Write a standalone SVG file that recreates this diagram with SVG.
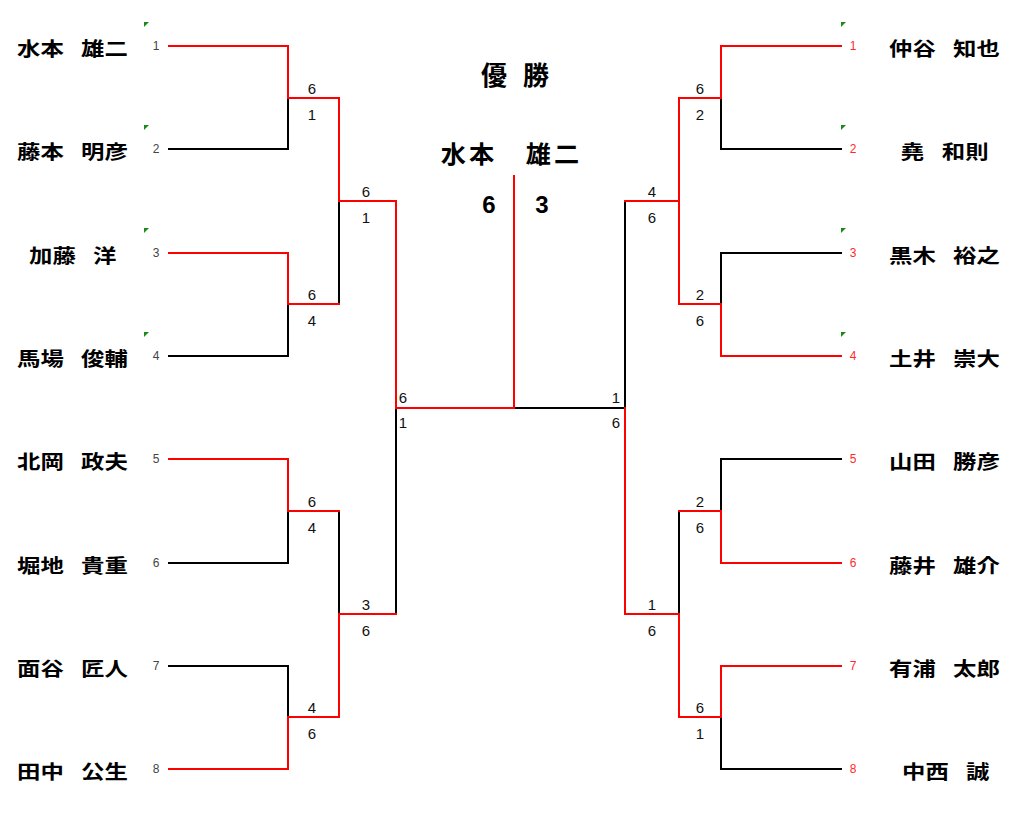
<svg xmlns="http://www.w3.org/2000/svg" width="1024" height="822" viewBox="0 0 1024 822">
<style>
.bk{fill:none;stroke:#000;stroke-width:2;stroke-linecap:square}
.rd{fill:none;stroke:#ff0000;stroke-width:2;stroke-linecap:square}
.nm{font-family:"Noto Sans CJK JP","Noto Sans CJK SC",sans-serif;font-weight:bold;font-size:19.5px;text-anchor:start;fill:#000}
.sdl{font-family:"Liberation Sans",Arial,sans-serif;font-size:12px;text-anchor:middle;fill:#444}
.sdr{font-family:"Liberation Sans",Arial,sans-serif;font-size:12px;text-anchor:middle;fill:#ff2a2a}
.sc{font-family:"Liberation Sans",Arial,sans-serif;font-size:15px;text-anchor:middle;fill:#111}
.tri{fill:#1a8a1a}
.ttl{font-family:"Noto Sans CJK JP","Noto Sans CJK SC",sans-serif;font-weight:bold;text-anchor:middle;fill:#000}
.fs{font-family:"Liberation Sans",Arial,sans-serif;font-weight:bold;font-size:24px;text-anchor:middle;fill:#000}
</style>
<rect width="1024" height="822" fill="#fff"/>
<g id="connectors">
<path class="bk" d="M169,149H288V98"/>
<path class="bk" d="M169,356H288V304"/>
<path class="bk" d="M339,304V201"/>
<path class="bk" d="M169,563H288V511"/>
<path class="bk" d="M169,666H288V717"/>
<path class="bk" d="M339,511V614"/>
<path class="bk" d="M396,614V408"/>
<path class="bk" d="M841,149H721V98"/>
<path class="bk" d="M841,253H721V304"/>
<path class="bk" d="M679,98V201"/>
<path class="bk" d="M625,201V408H514"/>
<path class="bk" d="M841,459H721V511"/>
<path class="bk" d="M679,511V614"/>
<path class="bk" d="M841,769H721V717"/>
<path class="rd" d="M169,46H288V98H339V201H396V408H514V176"/>
<path class="rd" d="M169,253H288V304H339"/>
<path class="rd" d="M169,459H288V511H339"/>
<path class="rd" d="M169,769H288V717H339V614H396"/>
<path class="rd" d="M841,46H721V98H679V201H625"/>
<path class="rd" d="M841,356H721V304H679V201"/>
<path class="rd" d="M841,563H721V511H679"/>
<path class="rd" d="M841,666H721V717H679V614H625V408"/>
</g>
<g id="scores">
<text class="sc" x="312" y="93.5">6</text><text class="sc" x="312" y="119.5">1</text>
<text class="sc" x="312" y="299.5">6</text><text class="sc" x="312" y="325.5">4</text>
<text class="sc" x="312" y="506.5">6</text><text class="sc" x="312" y="532.5">4</text>
<text class="sc" x="312" y="712.5">4</text><text class="sc" x="312" y="738.5">6</text>
<text class="sc" x="366" y="196.5">6</text><text class="sc" x="366" y="222.5">1</text>
<text class="sc" x="366" y="609.5">3</text><text class="sc" x="366" y="635.5">6</text>
<text class="sc" x="403" y="403">6</text><text class="sc" x="403" y="428">1</text>
<text class="sc" x="616" y="403">1</text><text class="sc" x="616" y="428">6</text>
<text class="sc" x="652" y="196.5">4</text><text class="sc" x="652" y="222.5">6</text>
<text class="sc" x="652" y="609.5">1</text><text class="sc" x="652" y="635.5">6</text>
<text class="sc" x="700" y="93.5">6</text><text class="sc" x="700" y="119.5">2</text>
<text class="sc" x="700" y="299.5">2</text><text class="sc" x="700" y="325.5">6</text>
<text class="sc" x="700" y="506.5">2</text><text class="sc" x="700" y="532.5">6</text>
<text class="sc" x="700" y="712.5">6</text><text class="sc" x="700" y="738.5">1</text>
</g>
<g id="champion">
<text class="ttl" x="515" y="85" font-size="26" word-spacing="10">優 勝</text>
<text class="ttl" font-size="24" letter-spacing="3" transform="translate(511.5,163) scale(1.05,1)">水本　雄二</text>
<text class="fs" x="489" y="212.5">6</text>
<text class="fs" x="542" y="212.5">3</text>
</g>
<g id="L1"><polygon class="tri" points="144,22 149,22 144,27"/><text class="sdl" x="156" y="50.3">1</text><text class="nm" x="0 19.6 39.2 53.3 72.9" y="0" transform="translate(17,55.6) scale(1.2,1)">水本　雄二</text></g>
<g id="L2"><polygon class="tri" points="144,125 149,125 144,130"/><text class="sdl" x="156" y="153.3">2</text><text class="nm" x="0 19.6 39.2 53.3 72.9" y="0" transform="translate(17,158.6) scale(1.2,1)">藤本　明彦</text></g>
<g id="L3"><polygon class="tri" points="144,228 149,228 144,233"/><text class="sdl" x="156" y="257.3">3</text><text class="nm" x="0 19.6 39.2 53.3" y="0" transform="translate(29,262.6) scale(1.2,1)">加藤　洋</text></g>
<g id="L4"><polygon class="tri" points="144,332 149,332 144,337"/><text class="sdl" x="156" y="360.3">4</text><text class="nm" x="0 19.6 39.2 53.3 72.9" y="0" transform="translate(17,365.6) scale(1.2,1)">馬場　俊輔</text></g>
<g id="L5"><text class="sdl" x="156" y="463.3">5</text><text class="nm" x="0 19.6 39.2 53.3 72.9" y="0" transform="translate(17,468.6) scale(1.2,1)">北岡　政夫</text></g>
<g id="L6"><text class="sdl" x="156" y="567.3">6</text><text class="nm" x="0 19.6 39.2 53.3 72.9" y="0" transform="translate(17,572.6) scale(1.2,1)">堀地　貴重</text></g>
<g id="L7"><text class="sdl" x="156" y="670.3">7</text><text class="nm" x="0 19.6 39.2 53.3 72.9" y="0" transform="translate(17,675.6) scale(1.2,1)">面谷　匠人</text></g>
<g id="L8"><text class="sdl" x="156" y="773.3">8</text><text class="nm" x="0 19.6 39.2 53.3 72.9" y="0" transform="translate(17,778.6) scale(1.2,1)">田中　公生</text></g>
<g id="R1"><polygon class="tri" points="841,22 846,22 841,27"/><text class="sdr" x="853" y="50.3">1</text><text class="nm" x="0 19.6 39.2 53.3 72.9" y="0" transform="translate(889,55.6) scale(1.2,1)">仲谷　知也</text></g>
<g id="R2"><polygon class="tri" points="841,125 846,125 841,130"/><text class="sdr" x="853" y="153.3">2</text><text class="nm" x="0 19.6 34.2 53.8" y="0" transform="translate(900.7,158.6) scale(1.2,1)">堯　和則</text></g>
<g id="R3"><polygon class="tri" points="841,228 846,228 841,233"/><text class="sdr" x="853" y="257.3">3</text><text class="nm" x="0 19.6 39.2 53.3 72.9" y="0" transform="translate(889,262.6) scale(1.2,1)">黒木　裕之</text></g>
<g id="R4"><polygon class="tri" points="841,332 846,332 841,337"/><text class="sdr" x="853" y="360.3">4</text><text class="nm" x="0 19.6 39.2 53.3 72.9" y="0" transform="translate(889,365.6) scale(1.2,1)">土井　崇大</text></g>
<g id="R5"><text class="sdr" x="853" y="463.3">5</text><text class="nm" x="0 19.6 39.2 53.3 72.9" y="0" transform="translate(889,468.6) scale(1.2,1)">山田　勝彦</text></g>
<g id="R6"><text class="sdr" x="853" y="567.3">6</text><text class="nm" x="0 19.6 39.2 53.3 72.9" y="0" transform="translate(889,572.6) scale(1.2,1)">藤井　雄介</text></g>
<g id="R7"><text class="sdr" x="853" y="670.3">7</text><text class="nm" x="0 19.6 39.2 53.3 72.9" y="0" transform="translate(889,675.6) scale(1.2,1)">有浦　太郎</text></g>
<g id="R8"><text class="sdr" x="853" y="773.3">8</text><text class="nm" x="0 19.6 39.2 53.3" y="0" transform="translate(902,778.6) scale(1.2,1)">中西　誠</text></g>
</svg>
